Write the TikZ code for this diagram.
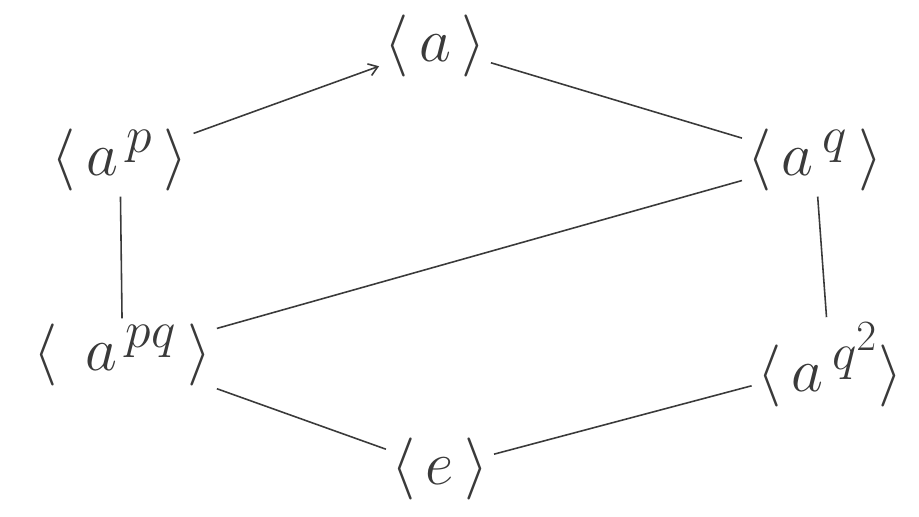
\documentclass[tikz,border=0pt]{standalone}
\usepackage{amsmath,amssymb}
\usetikzlibrary{arrows.meta}
\definecolor{cInk}{HTML}{3A3A3A}

\begin{document}
\begin{tikzpicture}[
   >=Stealth,
   grp/.style={inner sep=2pt, font=\Huge, scale=1.42, transform shape, text=cInk},
   edge/.style={draw=cInk, line width=0.9pt},
   uparr/.style={edge, -{Straight Barb[length=5pt,width=7pt]}}]
  \useasboundingbox (0,0) rectangle (18.38,10.32);
  \node[grp] (top)  at (8.7,9.4)   {$\langle\, a\,\rangle$};
  \node[grp] (ap)   at (2.4,7.12)  {$\langle\, a^{\,p}\,\rangle$};
  \node[grp] (aq)   at (16.3,7.12) {$\langle\, a^{\,q}\,\rangle$};
  \node[grp] (apq)  at (2.45,3.22) {$\langle\;\, a^{\,pq}\,\rangle$};
  \node[grp] (aqq)  at (16.6,3.02) {$\langle\, a^{\,q^2}\rangle$};
  \node[grp] (e)    at (8.8,0.95)  {$\langle\, e\,\rangle$};
  \draw[uparr] (ap) -- (top);
  \draw[edge] (top) -- (aq);
  \draw[edge] (ap) -- (apq);
  \draw[edge] (aq) -- (apq);
  \draw[edge] (aq) -- (aqq);
  \draw[edge] (apq) -- (e);
  \draw[edge] (aqq) -- (e);
\end{tikzpicture}
\end{document}
